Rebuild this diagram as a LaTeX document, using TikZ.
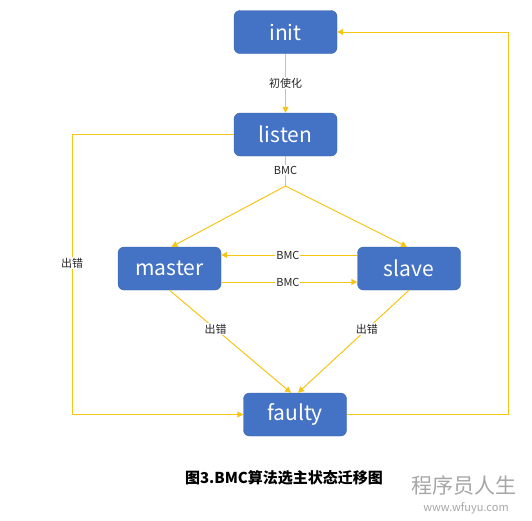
\documentclass[tikz,border=0pt]{standalone}
\usepackage{fontspec}
\setmainfont{Noto Sans CJK SC}
\newfontfamily\cjk{Noto Sans CJK SC}
\usetikzlibrary{arrows.meta}
\definecolor{boxblue}{HTML}{4472C4}
\definecolor{boxedge}{HTML}{3A63AE}
\definecolor{gold}{HTML}{F5C518}
\tikzset{
  state/.style={draw=boxedge, fill=boxblue, rounded corners=6pt, minimum width=103pt, minimum height=43pt, inner sep=0pt, text=white, font=\cjk\fontsize{21}{21}\selectfont},
  conn/.style={draw=gold, line width=1pt, -{Triangle[length=6pt,width=6pt]}},
  plain/.style={draw=gold, line width=1pt},
  lbl/.style={fill=white, inner sep=1pt, font=\cjk\fontsize{11}{11}\selectfont, text=black!85}
}
\begin{document}
\begin{tikzpicture}[x=1pt,y=-1pt]
\useasboundingbox (0,0) rectangle (532,520);
\node[state] (init) at (285.5,32) {init};
\node[state] (listen) at (285.5,134.5) {listen};
\node[state] (master) at (169.5,268.5) {master};
\node[state] (slave) at (409,268.5) {slave};
\node[state] (faulty) at (295,414.5) {faulty};
\coordinate (split) at (285.5,186);
\coordinate (lcorner1) at (72,134.5);
\coordinate (lcorner2) at (72,414.5);
\coordinate (rcorner1) at (508,414.5);
\coordinate (rcorner2) at (508,32);
% init -> listen
\draw[conn] (init.south) -- node[lbl] {初使化} (listen.north);
% listen -> master/slave
\draw[plain] (listen.south) -- (split);
\node[lbl] at (285.5,170) {BMC};
\draw[conn] (split) -- ([xshift=2pt]master.north);
\draw[conn] (split) -- ([xshift=-2pt]slave.north);
% master <-> slave
\draw[conn] ([yshift=13.5pt]slave.west) -- node[lbl,pos=0.51] {BMC} ([yshift=13.5pt]master.east);
\draw[conn] ([yshift=-13.5pt]master.east) -- node[lbl,pos=0.49] {BMC} ([yshift=-13.5pt]slave.west);
% to faulty
\draw[conn] (master.south) -- node[lbl,pos=0.38] {出错} ([xshift=-4pt]faulty.north);
\draw[conn] (slave.south) -- node[lbl,pos=0.38] {出错} ([xshift=3pt]faulty.north);
% listen -> faulty (left loop)
\draw[conn] (listen.west) -- (lcorner1) -- node[lbl,pos=0.46] {出错} (lcorner2) -- (faulty.west);
% faulty -> init (right loop)
\draw[conn] (faulty.east) -- (rcorner1) -- (rcorner2) -- (init.east);
% caption
\node[font=\cjk\bfseries\fontsize{15}{15}\selectfont, text=black] (cap) at (284,478) {图3.BMC算法选主状态迁移图};
\node[font=\cjk\fontsize{21}{21}\selectfont, text=black!35] (wm1) at (464,485) {程序员人生};
\node[font=\cjk\fontsize{11}{11}\selectfont, text=black!35] (wm2) at (466,508) {www.wfuyu.com};
\end{tikzpicture}
\end{document}
